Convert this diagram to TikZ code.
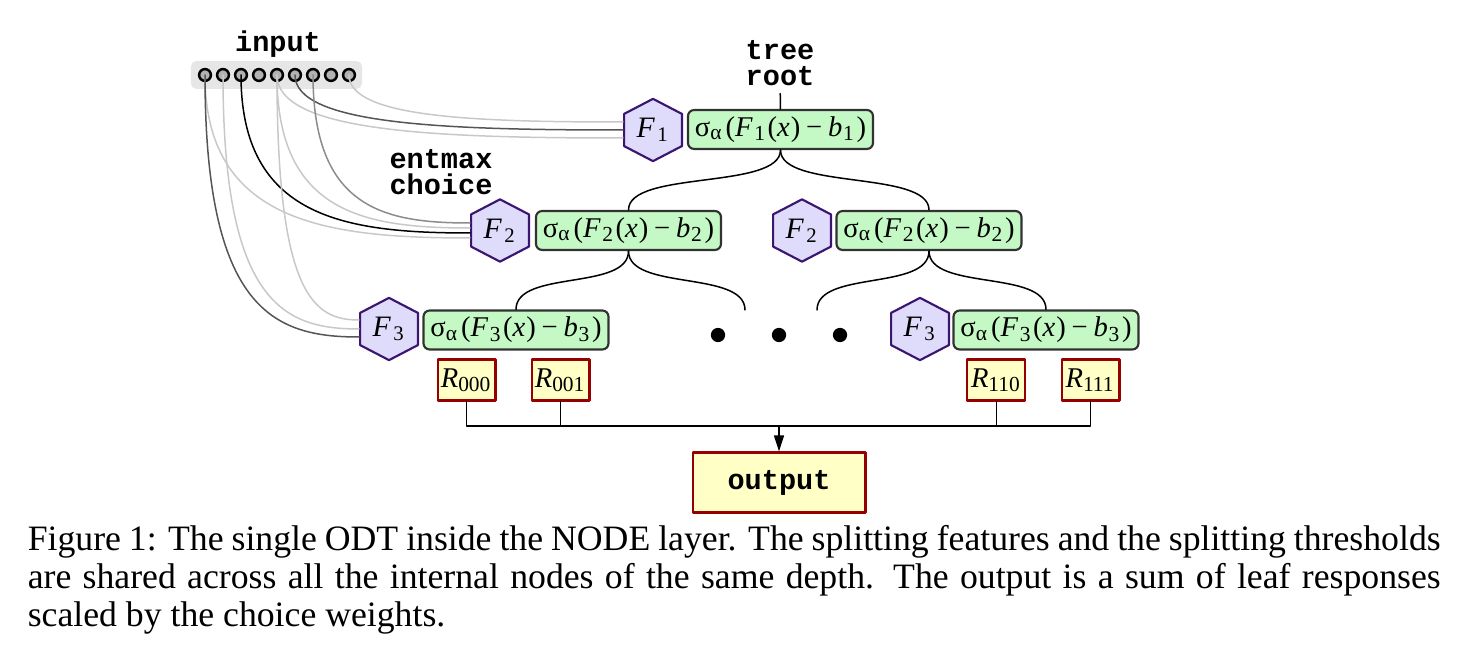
\documentclass[tikz,border=0pt]{standalone}
\usepackage{fontspec}
\setmainfont{Liberation Serif}
\newfontfamily\monofont{Liberation Mono}
\usetikzlibrary{shapes.symbols,arrows.meta,calc}
\definecolor{hexfill}{RGB}{222,220,250}
\definecolor{hexline}{RGB}{58,22,112}
\definecolor{gatefill}{RGB}{196,248,196}
\definecolor{gateline}{RGB}{50,50,50}
\definecolor{leaffill}{RGB}{255,255,198}
\definecolor{leafline}{RGB}{150,0,0}
\definecolor{barfill}{RGB}{230,230,230}
\definecolor{circfill}{RGB}{178,178,178}
\definecolor{wirelight}{RGB}{200,200,200}
\definecolor{wiremid}{RGB}{140,140,140}
\definecolor{wiredark}{RGB}{85,85,85}
\newcommand{\gate}[1]{σ\textsubscript{α}\kern.08em(\textit{F}\kern.05em\textsubscript{#1}\kern.03em(\textit{x}\kern.04em)\kern.2em−\kern.2em\textit{b}\kern.03em\textsubscript{#1}\kern.03em)}
\newcommand{\feat}[1]{\textit{F}\kern.08em\textsubscript{#1}}
\newcommand{\leafr}[1]{\textit{R}\textsubscript{#1}}
\begin{document}
\begin{tikzpicture}[x=.28pt,y=-.28pt,line join=round,line cap=round,line width=.42pt,
	hexa/.style={signal,signal to=north and south,signal pointer angle=125,draw=hexline,fill=hexfill,line width=.6pt,minimum width=16.2pt,minimum height=13.8pt,inner sep=0pt,font=\fontsize{8.3pt}{9pt}\selectfont},
	gatebox/.style={draw=gateline,fill=gatefill,rounded corners=1.7pt,line width=.6pt,minimum width=51.8pt,minimum height=10.9pt,inner sep=0pt,font=\fontsize{8pt}{9pt}\selectfont},
	leafbox/.style={draw=leafline,fill=leaffill,line width=.6pt,minimum width=16.2pt,minimum height=11.5pt,inner sep=0pt,font=\fontsize{8pt}{9pt}\selectfont},
	outbox/.style={draw=leafline,fill=leaffill,line width=.6pt,minimum width=48.4pt,minimum height=16.8pt,inner sep=0pt,font=\monofont\bfseries\fontsize{8pt}{8pt}\selectfont},
	lbl/.style={inner sep=0pt,font=\monofont\bfseries\fontsize{8pt}{7.3pt}\selectfont},
	incirc/.style={circle,draw,fill=circfill,minimum size=3.3pt,inner sep=0pt,line width=.7pt},
	dot/.style={circle,fill,minimum size=4pt,inner sep=0pt},
	light/.style={draw=wirelight},mid/.style={draw=wiremid},dark/.style={draw=wiredark},black/.style={draw=black}]
	\useasboundingbox (0,0) rectangle (1480,656);
	\path
	(779,426) coordinate (bus)
	(745,310) coordinate (endL)
	(817,310) coordinate (endR)
	;
	\node (inbar) [fill=barfill,rounded corners=1.5pt,minimum width=47.9pt,minimum height=7.8pt,inner sep=0pt] at (276.5,75) {};
	\node (inlbl) [lbl] at (278,44) {input};
	\foreach \k in {1,...,9}
		\node (in\k) [incirc] at ({205+18*(\k-1)},75) {};
	\node (troot) [lbl,align=center] at (780,63) {tree\\root};
	\node (entlbl) [lbl,align=left] at (441,172) {entmax\\choice};
	\node (f1) [hexa] at (653,130) {\feat{1}};
	\node (s1) [gatebox] at (780.5,129.5) {\gate{1}};
	\node (f2l) [hexa] at (500,230.5) {\feat{2}};
	\node (s2l) [gatebox] at (628.5,230.5) {\gate{2}};
	\node (f2r) [hexa] at (802,230.5) {\feat{2}};
	\node (s2r) [gatebox] at (929,230.5) {\gate{2}};
	\node (f3l) [hexa] at (389,329) {\feat{3}};
	\node (s3l) [gatebox] at (516,330) {\gate{3}};
	\node (f3r) [hexa] at (920,329) {\feat{3}};
	\node (s3r) [gatebox] at (1046,330) {\gate{3}};
	\foreach \k/\x in {1/718,2/779,3/840}
		\node (dot\k) [dot] at (\x,335) {};
	\node (r000) [leafbox] at (466.5,380) {\leafr{000}};
	\node (r001) [leafbox] at (560.5,380) {\leafr{001}};
	\node (r110) [leafbox] at (996.3,380) {\leafr{110}};
	\node (r111) [leafbox] at (1090.5,380) {\leafr{111}};
	\node (out) [outbox] at (779,482.5) {output};
	\foreach \i/\h/\dy/\c in {9/f1/-8/light,6/f1/0/dark,5/f1/8/light,7/f2l/-7.5/mid,5/f2l/-2.5/light,3/f2l/2.5/black,1/f2l/7.5/light,5/f3l/-9/light,2/f3l/0/light,1/f3l/8/dark}{
		\path ($(\h.west)+(0,\dy)$) coordinate (e);
		\draw[\c] (in\i.center) .. controls ($(in\i.center)!.9!(in\i.center|-e)$) and ($(e)!.55!(in\i.center|-e)$) .. (e);
	}
	\draw[shorten <=2pt] (troot) -- (s1);
	\draw (s1.south) .. controls +(0,40) and +(0,-40) .. (s2l.north);
	\draw (s1.south) .. controls +(0,40) and +(0,-40) .. (s2r.north);
	\draw (s2l.south) .. controls +(0,40) and +(0,-40) .. (s3l.north);
	\draw (s2l.south) .. controls +(0,40) and +(0,-40) .. (endL);
	\draw (s2r.south) .. controls +(0,40) and +(0,-40) .. (endR);
	\draw (s2r.south) .. controls +(0,40) and +(0,-40) .. (s3r.north);
	\draw (r000.south) |- (bus) -| (r111.south);
	\draw (r001.south) -- (r001.south|-bus);
	\draw (r110.south) -- (r110.south|-bus);
	\draw[-{Triangle[length=4.5pt,width=2.8pt]}] (bus) -- (out.north);
	\node (caption) [anchor=north west,text width=395.6pt,align=justify,inner sep=0pt,font=\fontsize{10pt}{10.64pt}\selectfont] at (27,525) {Figure 1: The single ODT inside the NODE layer. The splitting features and the splitting thresholds\linebreak are shared across all the internal nodes of the same depth. The output is a sum of leaf responses\linebreak scaled by the choice weights.};
\end{tikzpicture}
\end{document}
